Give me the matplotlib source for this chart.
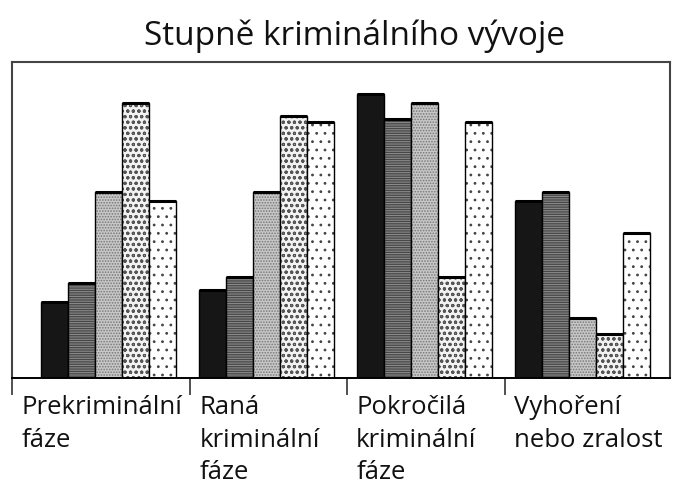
import numpy as np
import matplotlib
matplotlib.use("Agg")
import matplotlib.pyplot as plt

# category labels (x axis) and five series (0-100 scale)
categories = ["Prekriminální\nfáze", "Raná\nkriminální\nfáze",
              "Pokročilá\nkriminální\nfáze", "Vyhoření\nnebo zralost"]
s1 = [24, 28, 90, 56]
s2 = [30, 32, 82, 59]
s3 = [59, 59, 87, 19]
s4 = [87, 83, 32, 14]
s5 = [56, 81, 81, 46]
series = [s1, s2, s3, s4, s5]

# fill, hatch colour, hatch pattern for each series (printed b/w look)
faces = ["#161616", "#474747", "#c8c8c8", "#f2f2f2", "#ffffff"]
hcols = ["#161616", "#8a8a8a", "#777777", "#555555", "#444444"]
hatches = [None, "-------", "......", "ooo", ".."]

plt.rcParams["font.family"] = ["Open Sans", "DejaVu Sans"]
plt.rcParams["hatch.linewidth"] = 0.8

fig = plt.figure(figsize=(6.75, 4.86), dpi=100)
ax = fig.add_axes([0.0178, 0.222, 0.975, 0.650])

x = np.arange(len(categories))
w = 0.171
for j, vals in enumerate(series):
    pos = x + (j - 2) * w
    ax.bar(pos, vals, width=w, color=faces[j], edgecolor=hcols[j],
           hatch=hatches[j], linewidth=0)
    ax.bar(pos, vals, width=w, fill=False, edgecolor="black", linewidth=1.0)
    # thicker top edge like the print
    ax.hlines(vals, pos - w / 2, pos + w / 2, color="black", linewidth=2.2)

ax.set_xlim(-0.608, 3.557)
ax.set_ylim(0, 100)
ax.set_yticks([])

bounds = [-0.608, 0.52, 1.51, 2.51]
ax.set_xticks(bounds)
ax.set_xticklabels([])
ax.tick_params(axis="x", direction="out", length=12, width=1.2, color="#333333")

for sp in ["left", "top", "right"]:
    ax.spines[sp].set_color("#444444")
    ax.spines[sp].set_linewidth(1.5)
ax.spines["bottom"].set_linewidth(1.4)

for b, lab in zip(bounds, categories):
    ax.text(b + 0.06, -0.055, lab, transform=ax.get_xaxis_transform(),
            ha="left", va="top", fontsize=18.5, linespacing=1.38,
            color="#111111")

fig.text(0.525, 0.926, "Stupně kriminálního vývoje", ha="center", va="center",
         fontsize=24, color="#111111")

fig.savefig("out.png", dpi=100)
